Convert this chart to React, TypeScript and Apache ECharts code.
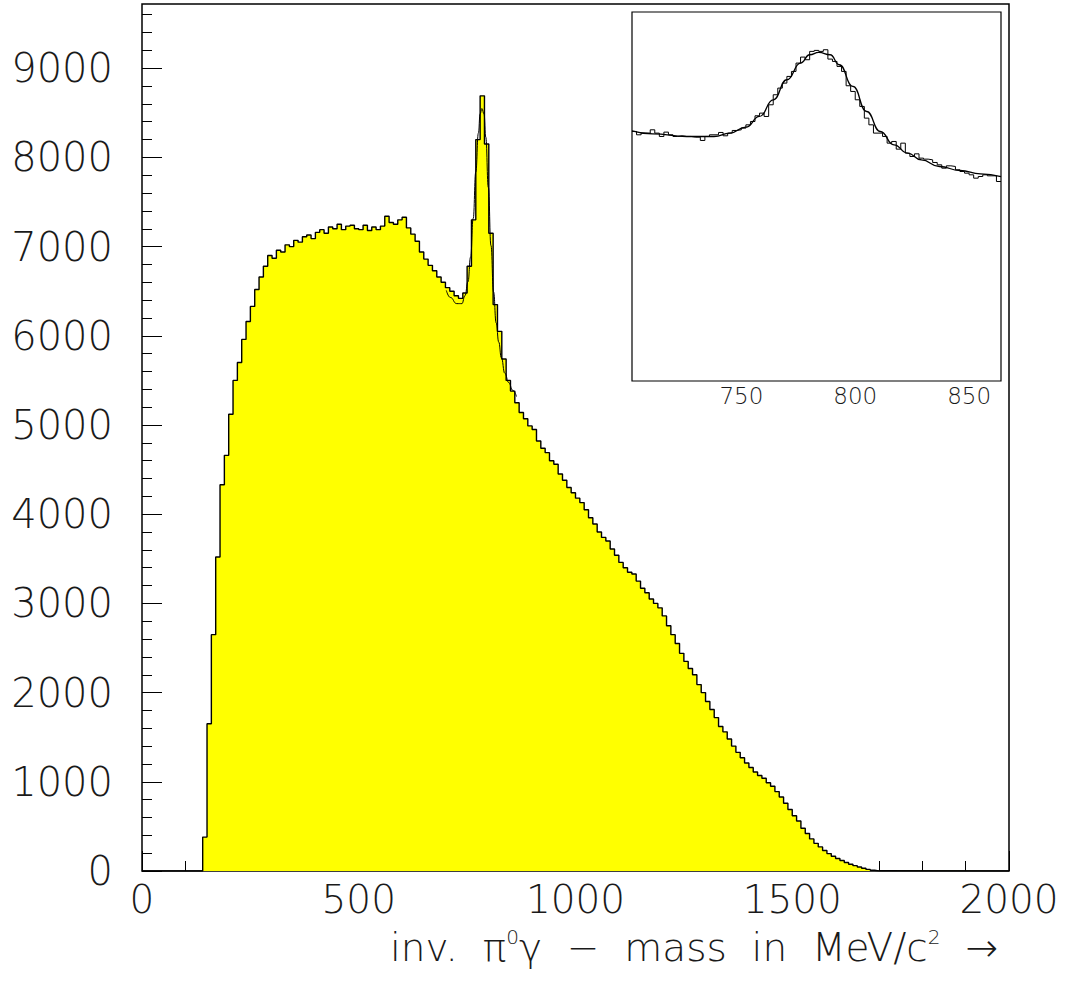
import React, { useEffect, useRef } from "react";
import * as echarts from "echarts";

// ---- main histogram (10 MeV bins, left edges from BIN_START) ----
const BIN_START = 140;
const BIN_WIDTH = 10;
const counts = [
  380, 1650, 2650, 3520, 4330, 4660, 5120, 5500, 5700, 5960,
  6160, 6330, 6520, 6660, 6780, 6900, 6870, 6960, 6940, 7020,
  7000, 7070, 7050, 7110, 7130, 7090, 7160, 7190, 7150, 7220,
  7200, 7250, 7190, 7230, 7240, 7200, 7190, 7240, 7180, 7220,
  7190, 7230, 7340, 7270, 7250, 7300, 7330, 7210, 7140, 7060,
  6940, 6860, 6790, 6730, 6660, 6600, 6540, 6500, 6450, 6420,
  6480, 6780, 7300, 8200, 8690, 8150, 7150, 6350, 6050, 5740,
  5500, 5380, 5250, 5140, 5070, 4990, 4950, 4820, 4740, 4690,
  4600, 4560, 4450, 4380, 4300, 4240, 4180, 4130, 4050, 3960,
  3890, 3800, 3740, 3700, 3610, 3540, 3460, 3400, 3350, 3330,
  3250, 3170, 3120, 3050, 3000, 2950, 2860, 2750, 2650, 2550,
  2440, 2350, 2270, 2200, 2090, 2000, 1900, 1810, 1720, 1620,
  1560, 1480, 1400, 1330, 1270, 1210, 1160, 1110, 1070, 1040,
  990, 950, 890, 830, 760, 690, 620, 560, 480, 420,
  360, 310, 270, 230, 195, 165, 140, 118, 95, 75,
  60, 45, 30, 18, 8, 2,
];

// ---- inset histogram (2 MeV bins from INSET_START) ----
const INSET_START = 702;
const INSET_BIN = 2;
const insetCounts = [
  6492, 6405, 6449, 6449, 6535, 6449, 6362, 6475, 6405, 6362,
  6379, 6362, 6362, 6344, 6344, 6258, 6362, 6405, 6405, 6466,
  6379, 6449, 6518, 6535, 6579, 6665, 6752, 6900, 6969, 6882,
  7186, 7447, 7620, 7750, 7924, 8054, 8271, 8427, 8358, 8575,
  8601, 8575, 8618, 8375, 8314, 8184, 8054, 7681, 7533, 7316,
  7143, 6839, 6665, 6449, 6449, 6362, 6188, 6232, 6032, 6188,
  5928, 5841, 5910, 5798, 5772, 5754, 5685, 5624, 5537, 5598,
  5581, 5494, 5450, 5407, 5364, 5277, 5320, 5364, 5338, 5338,
  5190,
];

// ---- fit curve ----
const fitMass = [702, 711, 726, 738, 745, 752, 758, 764, 770, 776, 780, 784, 789, 793, 799, 805, 811, 817, 823, 829, 837, 846, 855, 864];
const fitValues = [6509, 6431, 6361, 6361, 6449, 6606, 6882, 7316, 7837, 8272, 8488, 8548, 8488, 8228, 7663, 7012, 6491, 6145, 5929, 5754, 5580, 5476, 5390, 5319];

// ---- ticks ----
const xMajorTicks = [0, 500, 1000, 1500, 2000];
const yMajorTicks = [0, 1000, 2000, 3000, 4000, 5000, 6000, 7000, 8000, 9000];
const insetMajorTicks = [750, 800, 850];
const xMinorTicks = Array.from({ length: 19 }, (_, i) => (i + 1) * 100);
const yMinorTicks = Array.from({ length: 48 }, (_, i) => (i + 1) * 200);
const insetMinorTicks = Array.from({ length: 16 }, (_, i) => 710 + i * 10);

const FONT = "DejaVu Sans";
const TXT = "#1a1a1a";
const plain = (v: number) => String(v);

export default function App() {
  const ref = useRef<HTMLDivElement>(null);
  useEffect(() => {
    if (!ref.current) return;
    const chart = echarts.init(ref.current, undefined, { renderer: "svg" });

    const histData: [number, number][] = [[0, 0]];
    counts.forEach((c, i) => histData.push([BIN_START + i * BIN_WIDTH, c]));
    const histEnd = BIN_START + counts.length * BIN_WIDTH;
    histData.push([histEnd, 0]);
    histData.push([2000, 0]);

    const insetData: [number, number][] = insetCounts.map((c, i) => [INSET_START + i * INSET_BIN, c]);
    insetData.push([INSET_START + insetCounts.length * INSET_BIN, insetCounts[insetCounts.length - 1]]);

    const fitData = fitMass.map((m, i) => [m, fitValues[i]]);

    const mainRect = { left: 142, top: 4, width: 867, height: 867 };
    const insetRect = { left: 632, top: 12, width: 369, height: 369 };

    const noLine = { show: false };
    const noSplit = { show: false };

    chart.setOption({
      animation: false,
      backgroundColor: "#fff",
      grid: [
        { ...mainRect, show: true, borderColor: "#000", borderWidth: 1.5, backgroundColor: "transparent", z: 0 },
        { ...mainRect, show: false },
        { ...insetRect, show: true, borderColor: "#000", borderWidth: 1.2, backgroundColor: "#fff", z: 3 },
        { ...insetRect, show: false },
      ],
      xAxis: [
        {
          type: "value", gridIndex: 0, min: 0, max: 2000,
          axisLine: noLine, splitLine: noSplit,
          axisTick: { show: true, inside: true, length: 20, customValues: xMajorTicks, lineStyle: { color: "#000", width: 1 } },
          axisLabel: { customValues: xMajorTicks, formatter: plain, fontSize: 39, fontFamily: FONT, fontWeight: 200, color: TXT, margin: 9 },
        },
        {
          type: "value", gridIndex: 1, min: 0, max: 2000,
          axisLine: noLine, splitLine: noSplit, axisLabel: { show: false },
          axisTick: { show: true, inside: true, length: 10, customValues: xMinorTicks, lineStyle: { color: "#000", width: 1 } },
        },
        {
          type: "value", gridIndex: 2, min: 702, max: 864,
          axisLine: noLine, splitLine: noSplit,
          axisTick: { show: true, inside: true, length: 9, customValues: insetMajorTicks, lineStyle: { color: "#000", width: 1 } },
          axisLabel: { customValues: insetMajorTicks, formatter: plain, fontSize: 23, fontFamily: FONT, fontWeight: 200, color: TXT, margin: 3 },
        },
        {
          type: "value", gridIndex: 3, min: 702, max: 864,
          axisLine: noLine, splitLine: noSplit, axisLabel: { show: false },
          axisTick: { show: true, inside: true, length: 4.5, customValues: insetMinorTicks, lineStyle: { color: "#000", width: 1 } },
        },
      ],
      yAxis: [
        {
          type: "value", gridIndex: 0, min: 0, max: 9720,
          axisLine: noLine, splitLine: noSplit,
          axisTick: { show: true, inside: true, length: 20, customValues: yMajorTicks, lineStyle: { color: "#000", width: 1 } },
          axisLabel: { customValues: yMajorTicks, formatter: plain, fontSize: 40, fontFamily: FONT, fontWeight: 200, color: TXT, margin: 29 },
        },
        {
          type: "value", gridIndex: 1, min: 0, max: 9720,
          axisLine: noLine, splitLine: noSplit, axisLabel: { show: false },
          axisTick: { show: true, inside: true, length: 10, customValues: yMinorTicks, lineStyle: { color: "#000", width: 1 } },
        },
        { type: "value", gridIndex: 2, min: 0, max: 9600, show: false },
        { type: "value", gridIndex: 3, min: 0, max: 9600, show: false },
      ],
      series: [
        {
          type: "line", xAxisIndex: 0, yAxisIndex: 0, data: histData, step: "end",
          symbol: "none", lineStyle: { color: "#000", width: 1.4 },
          areaStyle: { color: "#ffff00", opacity: 1 }, z: 2,
        },
        {
          type: "line", xAxisIndex: 0, yAxisIndex: 0, data: fitData, smooth: true, smoothMonotone: "x",
          symbol: "none", lineStyle: { color: "#000", width: 1 }, z: 3,
        },
        {
          type: "line", xAxisIndex: 2, yAxisIndex: 2, data: insetData, step: "end",
          symbol: "none", lineStyle: { color: "#000", width: 1 }, z: 4,
        },
        {
          type: "line", xAxisIndex: 2, yAxisIndex: 2, data: fitData, smooth: true, smoothMonotone: "x",
          symbol: "none", lineStyle: { color: "#000", width: 1.3 }, z: 5,
        },
      ],
      graphic: [
        {
          type: "text",
          z: 10,
          style: {
            x: 998,
            y: 947,
            align: "right",
            verticalAlign: "middle",
            text: "inv.  π{sup|0}γ  −  mass  in  MeV/c{sup|2}  →",
            fontSize: 39,
            fontFamily: FONT,
            fontWeight: 200,
            fill: TXT,
            lineHeight: 40,
            rich: {
              sup: { fontSize: 20, fontFamily: FONT, fontWeight: 200, fill: TXT, verticalAlign: "top", lineHeight: 40 },
            },
          },
        },
      ],
    });
    return () => chart.dispose();
  }, []);
  return <div ref={ref} style={{ position: "absolute", left: 0, top: 0, width: 1068, height: 985 }} />;
}
